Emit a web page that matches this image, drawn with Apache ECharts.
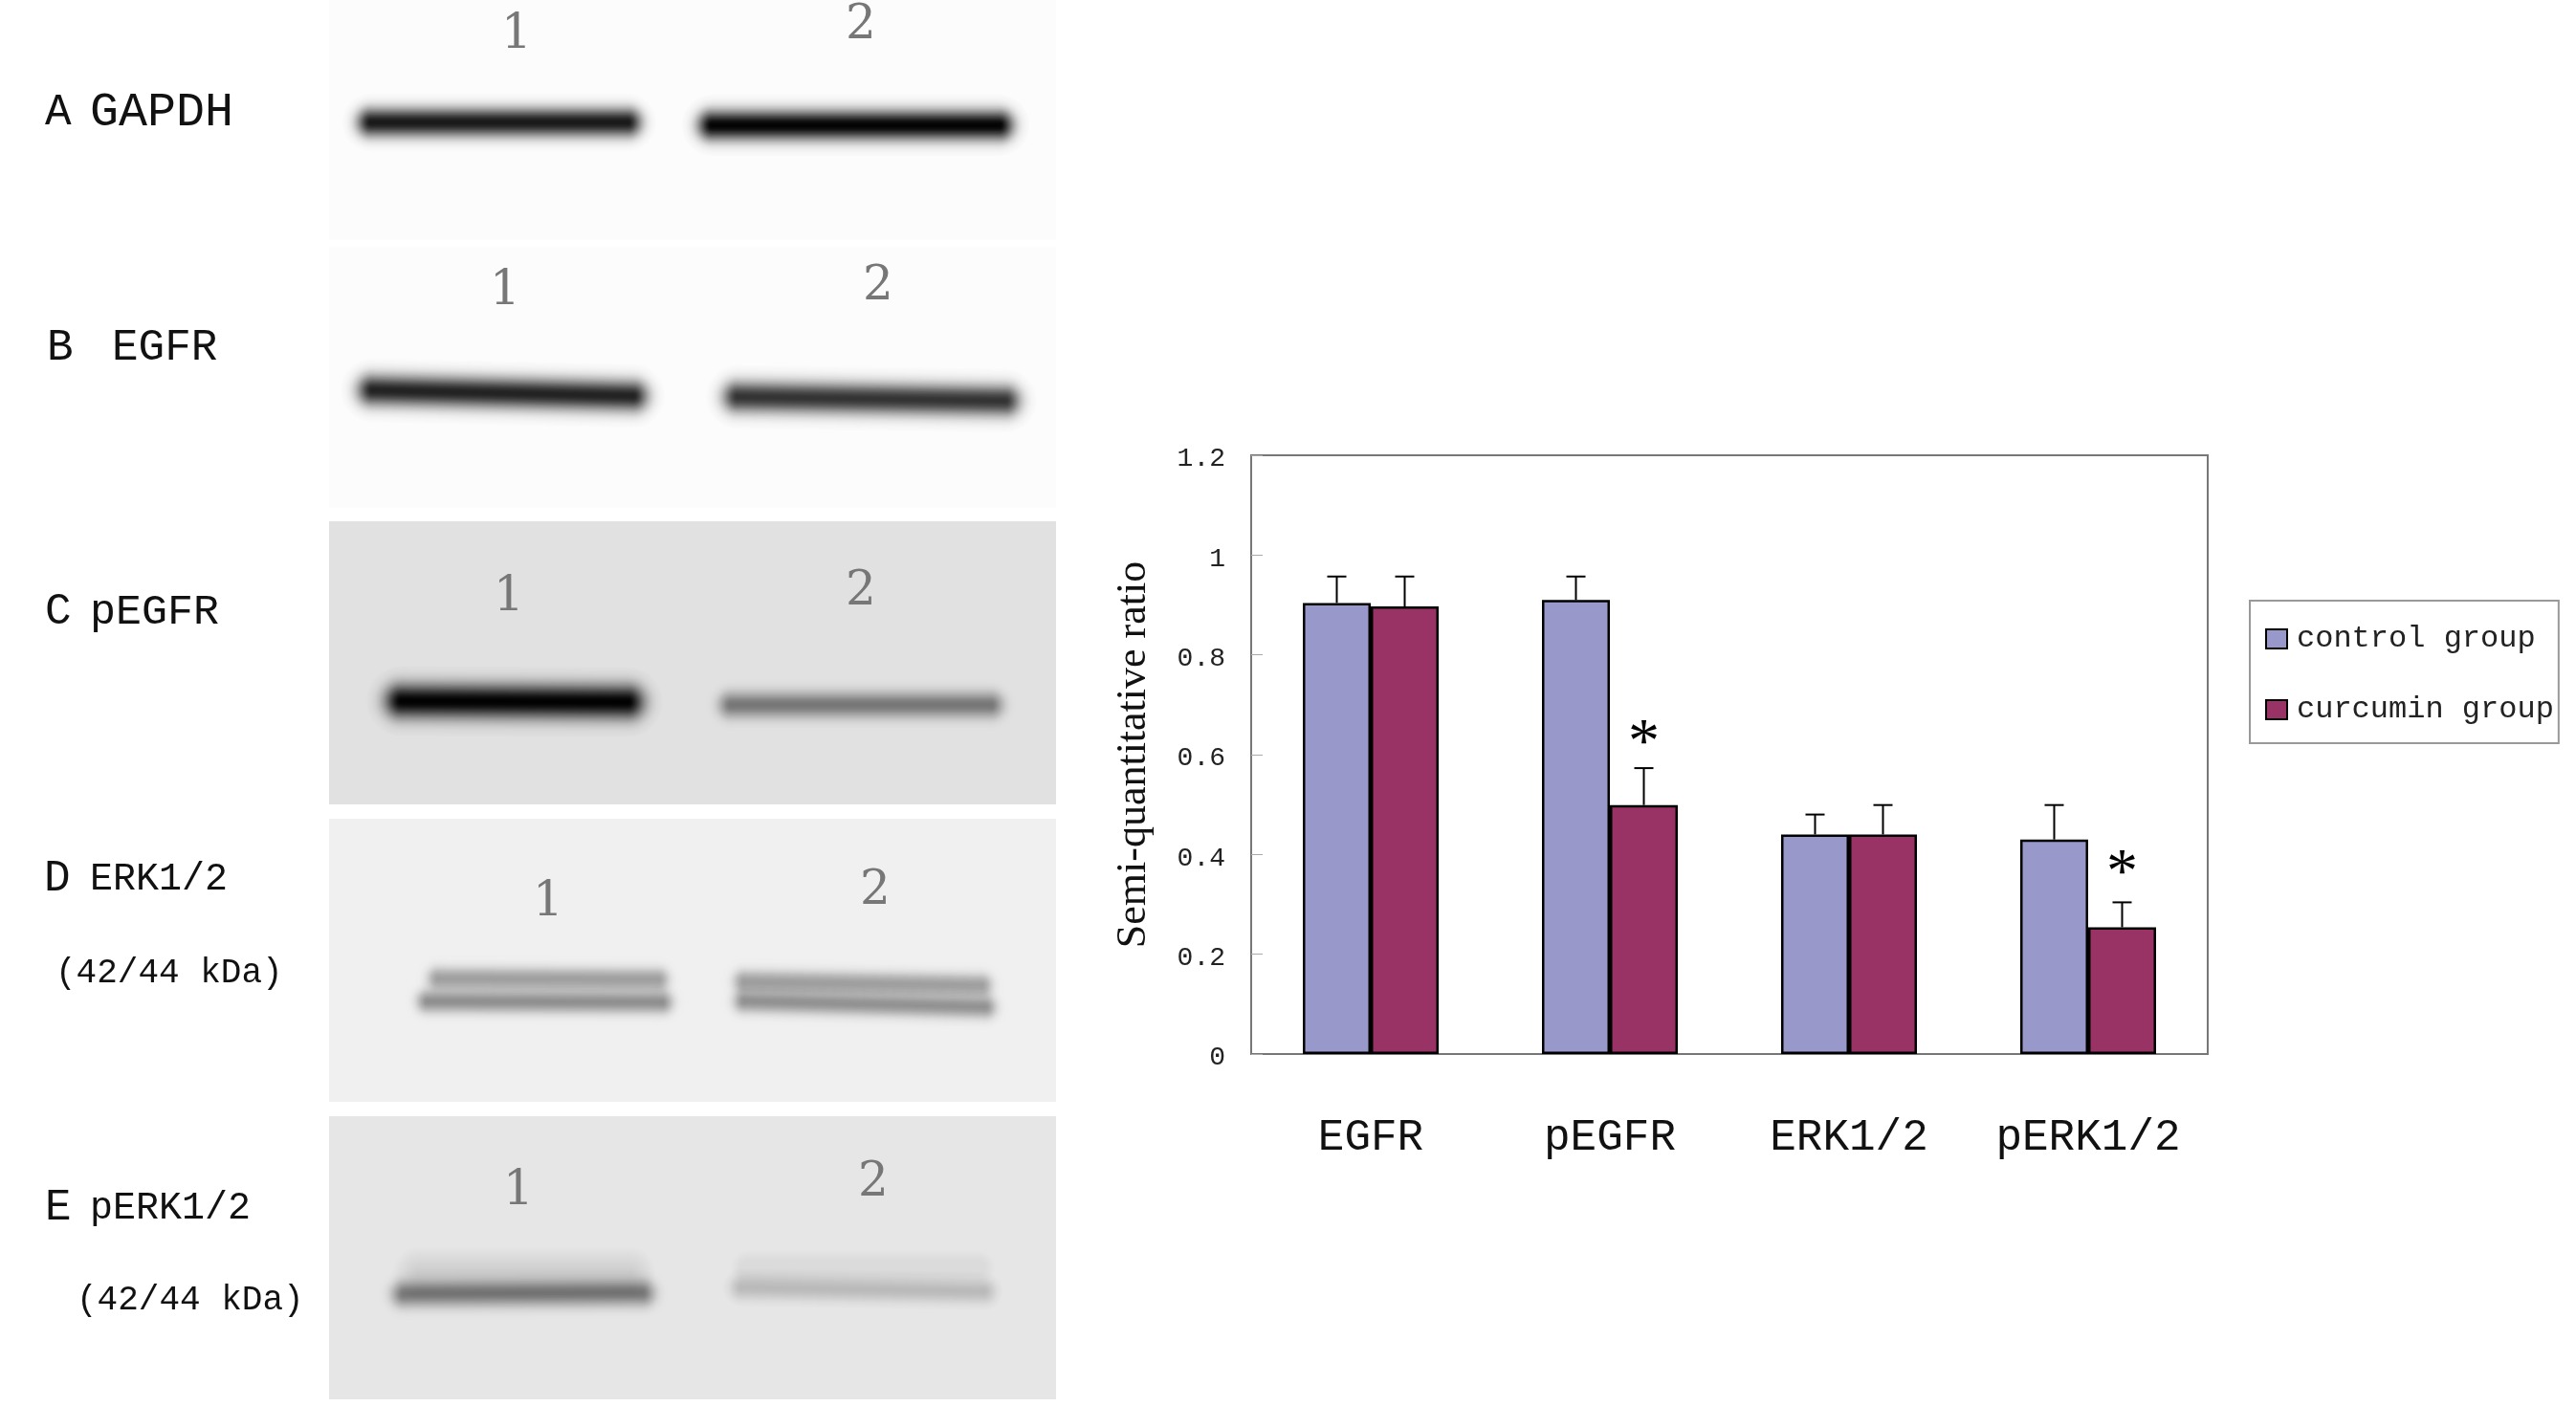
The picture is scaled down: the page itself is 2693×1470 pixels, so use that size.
<!DOCTYPE html>
<html>
<head>
<meta charset="utf-8">
<style>
  html, body { margin: 0; padding: 0; background: #fff; }
  #main { width: 2693px; height: 1470px; }
</style>
<script src="https://cdn.jsdelivr.net/npm/echarts@6/dist/echarts.min.js"></script>
</head>
<body>
<div id="main"></div>
<script>
// bar chart values
let categories = ["EGFR", "pEGFR", "ERK1/2", "pERK1/2"];
let controlValues = [0.904, 0.91, 0.44, 0.43];
let curcuminValues = [0.897, 0.499, 0.44, 0.254];
let controlErrorTops = [0.957, 0.957, 0.48, 0.499];
let curcuminErrorTops = [0.957, 0.573, 0.499, 0.304];
// [category index, height on the value axis]
let significanceMarks = [[1, 0.635], [3, 0.375]];

// blot panels, read in image pixels: [top, bottom]
let panelExtents = [[0, 251], [258, 531], [545, 841], [856, 1152], [1167, 1463]];
let panelShades = ["#fcfcfc", "#fcfcfc", "#e1e1e1", "#f0f0f0", "#e6e6e6"];
// blot bands: [x0, y0, x1, y1, peak opacity, blur]
let gapdhBands = [[374, 128, 670, 128, 0.88, 10], [730, 131, 1059, 131, 0.98, 10.5]];
let egfrBands = [[374, 408, 677, 414, 0.84, 11], [756, 415, 1066, 419, 0.76, 11]];
let pegfrBands = [[403, 733, 673, 734, 0.98, 12], [752, 737, 1048, 737, 0.42, 9]];
let erkBands = [
    [447, 1023, 699, 1024, 0.3, 8], [436, 1047, 703, 1048, 0.36, 8],
    [767, 1026, 1037, 1030, 0.3, 8], [767, 1047, 1041, 1053, 0.34, 8],
];
let perkBands = [
    [410, 1353, 684, 1352, 0.42, 9], [418, 1331, 678, 1331, 0.1, 14],
    [763, 1346, 1041, 1350, 0.17, 9], [763, 1325, 1041, 1325, 0.05, 13],
];
let allBands = [].concat(gapdhBands, egfrBands, pegfrBands, erkBands, perkBands);
// lane numbers: [x, y, text]
let laneNumbers = [
    [540, 37, "1"], [900, 27, "2"],
    [528, 305, "1"], [918, 300, "2"],
    [532, 625, "1"], [900, 619, "2"],
    [573, 944, "1"], [915, 932, "2"],
    [542, 1246, "1"], [913, 1237, "2"],
];

// panel captions
let captionTexts = ["A", "GAPDH", "B", "EGFR", "C", "pEGFR", "D", "ERK1/2", "(42/44 kDa)", "E", "pERK1/2", "(42/44 kDa)"];
let captionX = [47, 94, 49, 117, 47, 94, 46, 94, 58, 47, 94, 80];
let captionY = [118, 118, 364, 364, 640, 640, 919, 919, 1017, 1263, 1263, 1359];
let captionSize = [46, 50, 46, 46, 46, 45, 46, 40, 36, 46, 40, 36];

let monoFont = '"Liberation Mono", monospace';
let serifFont = '"Liberation Serif", serif';
let chartFont = monoFont;

let chartDom = document.getElementById("main");
let myChart = echarts.init(chartDom);

function errorItem(offsetShare) {
    return function (params, api) {
        let cat = api.value(0);
        let catWidth = api.size([1, 0])[0];
        let x = api.coord([cat, 0])[0] + offsetShare * catWidth;
        let low = api.coord([cat, api.value(1)])[1];
        let high = api.coord([cat, api.value(2)])[1];
        let lineStyle = { stroke: "#000", lineWidth: 2, fill: null };
        return {
            type: "group",
            children: [
                { type: "line", shape: { x1: x, y1: low, x2: x, y2: high }, style: lineStyle },
                { type: "line", shape: { x1: x - 10, y1: high, x2: x + 10, y2: high }, style: lineStyle },
            ],
        };
    };
}

// soft band: stacked round strokes, each alpha picked so the pile follows a gaussian
function bandItem(params, api) {
    let start = api.coord([api.value(0), api.value(1)]);
    let end = api.coord([api.value(2), api.value(3)]);
    let peak = api.value(4);
    let blur = api.value(5);
    let layers = 40;
    let reach = 3;
    let inset = 1.4 * blur;
    let children = [];
    let reached = 0;
    for (let k = 0; k < layers; k++) {
        let dist = reach * (1 - k / layers);
        let target = peak * Math.exp((-dist * dist) / 2);
        let alpha = 1 - (1 - target) / (1 - reached);
        reached = target;
        children.push({
            type: "line",
            shape: { x1: start[0] + inset, y1: start[1], x2: end[0] - inset, y2: end[1] },
            style: { stroke: "#000", lineWidth: 2 * dist * blur + 1, lineCap: "round", opacity: alpha, fill: null },
        });
    }
    return { type: "group", children: children };
}

let option = {
    animation: false,
    backgroundColor: "#fff",
    grid: [
        { left: 1308, top: 476, width: 1000, height: 626, show: true, borderColor: "#777", borderWidth: 2, backgroundColor: "#fff" },
        { left: 344, top: 0, width: 760, height: 1470 },
    ],
    xAxis: [
        {
            type: "category",
            gridIndex: 0,
            data: categories,
            axisLine: { lineStyle: { color: "#777", width: 2 } },
            axisTick: { inside: true, length: 18, lineStyle: { color: "#aaa", width: 1 } },
            axisLabel: { color: "#111", fontFamily: chartFont, fontSize: 46, margin: 65, interval: 0 },
        },
        { type: "value", gridIndex: 1, min: 344, max: 1104, show: false },
    ],
    yAxis: [
        {
            type: "value",
            gridIndex: 0,
            min: 0,
            max: 1.2,
            interval: 0.2,
            name: "Semi-quantitative ratio",
            nameLocation: "middle",
            nameRotate: 90,
            nameGap: 101,
            nameTextStyle: { color: "#111", fontFamily: serifFont, fontSize: 44 },
            splitLine: { show: false },
            axisLine: { show: true, lineStyle: { color: "#777", width: 2 } },
            axisTick: { show: true, inside: true, length: 12, lineStyle: { color: "#aaa", width: 1 } },
            axisLabel: {
                margin: 27,
                formatter: (value) => "{tick|" + value + "}",
                rich: { tick: { color: "#222", fontFamily: chartFont, fontSize: 28, padding: [8, 0, 0, 0] } },
            },
        },
        { type: "value", gridIndex: 1, min: 0, max: 1470, inverse: true, show: false },
    ],
    legend: {
        data: ["control group", "curcumin group"],
        orient: "vertical",
        left: 2352,
        top: 628,
        width: 321,
        padding: [24, 5, 19, 16],
        itemWidth: 22,
        itemHeight: 20,
        itemGap: 42,
        borderColor: "#999",
        borderWidth: 2,
        icon: "rect",
        textStyle: { color: "#222", fontFamily: monoFont, fontSize: 32, padding: [0, 0, 0, 5] },
    },
    graphic: {
        elements: captionTexts.map((text, i) => ({
            type: "text",
            left: captionX[i],
            top: captionY[i] - captionSize[i] / 2,
            style: { text: text, fill: "#111", font: captionSize[i] + "px " + monoFont },
        })),
    },
    series: [
        {
            name: "panels",
            type: "custom",
            xAxisIndex: 1,
            yAxisIndex: 1,
            silent: true,
            z: 1,
            data: panelExtents.map((p, i) => [p[0], p[1], i]),
            renderItem: function (params, api) {
                let tl = api.coord([344, api.value(0)]);
                let br = api.coord([1104, api.value(1)]);
                return {
                    type: "rect",
                    shape: { x: tl[0], y: tl[1], width: br[0] - tl[0], height: br[1] - tl[1] },
                    style: { fill: panelShades[api.value(2)] },
                };
            },
        },
        {
            name: "bands",
            type: "custom",
            xAxisIndex: 1,
            yAxisIndex: 1,
            silent: true,
            z: 2,
            data: allBands,
            renderItem: bandItem,
        },
        {
            name: "lanes",
            type: "custom",
            xAxisIndex: 1,
            yAxisIndex: 1,
            silent: true,
            z: 3,
            data: laneNumbers,
            encode: { x: 0, y: 1 },
            renderItem: function (params, api) {
                let p = api.coord([api.value(0), api.value(1)]);
                return {
                    type: "text",
                    x: p[0],
                    y: p[1],
                    style: {
                        text: laneNumbers[params.dataIndex][2],
                        fill: "#777",
                        font: '50px "DejaVu Serif", serif',
                        align: "center",
                        verticalAlign: "middle",
                    },
                };
            },
        },
        {
            name: "control group",
            type: "bar",
            data: controlValues,
            barWidth: "28.4%",
            barGap: 0,
            z: 4,
            itemStyle: { color: "#9898CA", borderColor: "#000", borderWidth: 2.5 },
        },
        {
            name: "curcumin group",
            type: "bar",
            data: curcuminValues,
            barWidth: "28.4%",
            barGap: 0,
            z: 4,
            itemStyle: { color: "#993366", borderColor: "#000", borderWidth: 2.5 },
        },
        {
            name: "control error",
            type: "custom",
            z: 5,
            data: controlValues.map((v, i) => [i, v, controlErrorTops[i]]),
            renderItem: errorItem(-0.142),
        },
        {
            name: "curcumin error",
            type: "custom",
            z: 5,
            data: curcuminValues.map((v, i) => [i, v, curcuminErrorTops[i]]),
            renderItem: errorItem(0.142),
        },
        {
            name: "significance",
            type: "custom",
            z: 6,
            data: significanceMarks,
            renderItem: function (params, api) {
                let p = api.coord([api.value(0), api.value(1)]);
                return {
                    type: "text",
                    x: p[0] + 0.142 * api.size([1, 0])[0],
                    y: p[1] + 8,
                    style: { text: "*", fill: "#000", font: "66px " + serifFont, align: "center", verticalAlign: "middle" },
                };
            },
        },
    ],
};

myChart.setOption(option);
</script>
</body>
</html>
